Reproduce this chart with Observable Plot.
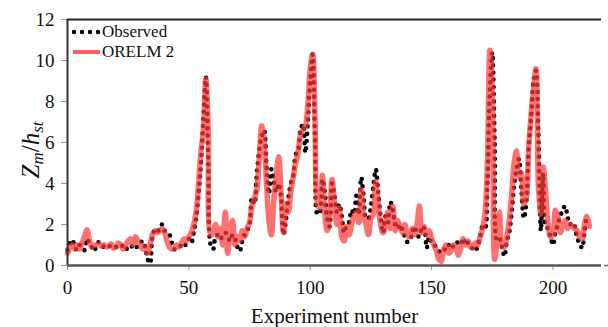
<!DOCTYPE html>
<html>
<head>
<meta charset="utf-8">
<script src="https://cdn.jsdelivr.net/npm/d3@7"></script>
<script src="https://cdn.jsdelivr.net/npm/@observablehq/plot@0.6"></script>
<style>
  html, body { margin: 0; padding: 0; background: #fff; }
  #wrap { position: relative; width: 608px; height: 327px; font-family: "Liberation Serif", Tinos, "Times New Roman", Times, "DejaVu Serif", serif; }
  #ylab { position: absolute; left: 32px; top: 150px; transform: translate(-50%, -50%) rotate(-90deg); font-size: 25px; white-space: nowrap; color: #111; }
  #ylab sub { font-size: 17px; vertical-align: -4px; }
  #legend { position: absolute; left: 71px; top: 22px; font-size: 17px; color: #111; line-height: 20px; }
  #legend div { display: flex; align-items: center; }
  #legend svg { margin-right: 1px; }
</style>
</head>
<body>
<div id="wrap">
  <div id="chart"></div>
  <div id="ylab"><i>Z</i><sub><i>m</i></sub>/<i>h</i><sub><i>st</i></sub></div>
  <div id="legend">
    <div><svg width="30" height="12"><line x1="3" y1="6" x2="28" y2="6" stroke="#000" stroke-width="4.5" stroke-linecap="round" stroke-dasharray="0 8"/></svg>Observed</div>
    <div><svg width="30" height="12"><line x1="2" y1="6" x2="29" y2="6" stroke="#ff3838" stroke-opacity="0.8" stroke-width="4"/></svg>ORELM 2</div>
  </div>
</div>
<script>
// Observed relative scour depth per experiment (index 0..215)
const observed = [
  0.75, 1.1, 1.25, 0.9, 0.75, 1.0, 0.9, 0.75, 1.3, 1.1,
  0.9, 0.7, 1.0, 1.15, 1.0, 0.9, 0.85, 0.9, 1.0, 0.95,
  0.9, 0.85, 0.9, 1.0, 0.8, 0.9, 1.0, 0.85, 0.8, 1.0,
  1.1, 1.2, 0.9, 0.3, 0.1, 1.4, 1.7, 1.6, 1.9, 2.0,
  1.7, 1.6, 1.5, 1.1, 0.8, 0.8, 0.85, 1.0, 0.9, 1.1,
  1.3, 1.1, 1.6, 2.3, 3.5, 5.0, 7.2, 9.2, 5.0, 1.0,
  0.8, 1.4, 1.5, 1.3, 1.5, 1.6, 1.4, 1.2, 1.5, 1.3,
  0.9, 0.7, 1.2, 1.5, 1.7, 2.0, 3.3, 3.0, 4.5, 5.6,
  6.3, 6.6, 4.8, 3.5, 4.7, 4.1, 3.6, 4.0, 3.3, 1.5,
  2.2, 3.3, 4.0, 4.4, 5.4, 5.6, 6.6, 6.9, 5.5, 7.0,
  9.0, 10.3, 6.0, 2.5, 2.6, 4.2, 3.6, 2.3, 1.9, 4.0,
  3.4, 2.6, 3.0, 2.4, 1.6, 2.0, 2.1, 2.7, 2.5, 3.4,
  2.5, 4.3, 3.4, 2.3, 2.3, 2.9, 3.9, 4.7, 3.6, 2.4,
  1.6, 2.4, 2.1, 3.1, 2.7, 2.0, 1.8, 2.0, 1.7, 1.4,
  1.15, 1.2, 1.6, 1.9, 1.5, 1.4, 1.9, 1.8, 0.85, 1.4,
  1.1, 1.0, 0.9, 0.7, 0.65, 0.8, 0.75, 1.0, 1.1, 0.9,
  0.95, 1.2, 1.25, 1.0, 1.3, 1.1, 1.0, 0.8, 0.7, 1.0,
  1.4, 1.9, 1.8, 4.0, 8.5, 10.4, 6.0, 1.2, 1.3, 0.9,
  0.45, 1.2, 1.6, 2.6, 3.9, 4.7, 5.2, 3.7, 2.3, 3.0,
  5.8, 7.2, 9.0, 9.5, 6.5, 1.7, 4.5, 1.9, 1.8, 1.4,
  1.0, 1.6, 2.0, 2.4, 2.7, 2.9, 2.4, 2.0, 2.1, 1.9,
  1.3, 1.1, 0.85, 1.6, 2.3, 2.3
];

// ORELM 2 model predictions for the same experiments
const orelm2 = [
  0.6, 0.9, 1.0, 0.8, 1.0, 0.8, 1.1, 1.4, 1.75, 1.2,
  0.9, 1.0, 1.0, 1.05, 0.95, 1.0, 0.9, 0.95, 1.05, 0.85,
  0.9, 1.1, 1.0, 0.8, 1.0, 1.2, 1.3, 1.0, 1.4, 1.2,
  1.0, 0.8, 0.9, 0.6, 1.0, 1.5, 1.7, 1.6, 1.7, 1.8,
  1.6, 1.2, 0.9, 0.8, 0.85, 1.0, 0.9, 1.1, 1.3, 1.2,
  1.4, 1.6, 2.0, 2.6, 4.0, 5.6, 6.6, 9.1, 6.5, 1.5,
  1.6, 2.0, 1.4, 1.8, 1.0, 2.6, 0.6, 1.6, 2.2, 1.0,
  1.4, 1.2, 1.7, 1.4, 1.8, 2.1, 2.9, 3.3, 3.7, 5.2,
  6.8, 6.0, 4.0, 2.2, 1.5, 3.2, 4.4, 5.3, 3.5, 1.6,
  3.0, 2.6, 3.6, 4.3, 5.0, 5.5, 6.4, 6.6, 6.8, 7.8,
  9.6, 10.3, 7.0, 3.0, 2.8, 4.4, 2.5, 1.7, 2.4, 4.2,
  3.0, 2.0, 2.8, 1.4, 1.2, 1.9, 1.5, 2.0, 2.4, 2.6,
  2.1, 3.7, 2.4, 2.0, 1.5, 2.3, 2.5, 4.1, 3.0, 2.0,
  1.6, 2.0, 2.6, 1.8, 2.9, 1.7, 2.2, 1.9, 1.6, 2.0,
  1.5, 1.4, 1.8, 1.5, 2.0, 2.9, 1.6, 1.9, 1.5, 1.7,
  1.3, 1.0, 0.7, 0.3, 0.2, 0.8, 1.0, 0.6, 0.7, 1.0,
  0.9, 0.5, 0.9, 1.3, 1.0, 1.2, 0.9, 0.9, 1.1, 1.0,
  1.4, 1.8, 2.5, 5.0, 10.5, 8.5, 0.3, 1.2, 2.6, 1.0,
  0.9, 1.4, 2.2, 3.5, 5.0, 5.6, 4.3, 4.5, 3.0, 3.3,
  5.7, 7.4, 8.6, 9.6, 4.0, 2.5, 4.8, 3.5, 2.0, 1.4,
  1.5, 2.7, 2.4, 1.6, 2.0, 2.2, 1.8, 2.0, 1.9, 1.8,
  1.7, 1.4, 1.3, 2.0, 2.4, 1.9
];

const xTicks = [0, 50, 100, 150, 200];
const yTicks = [0, 2, 4, 6, 8, 10, 12];

const obsRows = observed.map((v, i) => ({i, v}));
const predRows = orelm2.map((v, i) => ({i, v}));

const serif = "'Liberation Serif', Tinos, 'Times New Roman', Times, 'DejaVu Serif', serif";

const chart = Plot.plot({
  width: 608,
  height: 327,
  marginLeft: 67,
  marginRight: 7,
  marginTop: 19,
  marginBottom: 62,
  style: {fontFamily: serif, fontSize: "19px", color: "#111", background: "#fff"},
  x: {domain: [0, 220]},
  y: {domain: [0, 12]},
  marks: [
    Plot.axisX({ticks: xTicks, tickSize: 5, tickPadding: 10, stroke: "#999", label: null, fontSize: 19, fontFamily: serif}),
    Plot.axisY({ticks: yTicks, tickSize: 6, tickPadding: 7, stroke: "#999", label: null, fontSize: 19, fontFamily: serif}),
    // observed: round-dot line
    Plot.line(obsRows, {x: "i", y: "v", curve: "catmull-rom", stroke: "#000", strokeWidth: 4.6,
      strokeLinecap: "round", strokeDasharray: "0 7.2"}),
    // model: translucent red line over the dots
    Plot.line(predRows, {x: "i", y: "v", curve: "catmull-rom", stroke: "#ff3a3a", strokeOpacity: 0.72,
      strokeWidth: 5.5, strokeLinejoin: "round"}),
    // plot-area frame: left, top and bottom lines
    Plot.ruleX([0], {stroke: "#333", strokeWidth: 2}),
    Plot.ruleY([12], {stroke: "#222", strokeWidth: 2}),
    Plot.ruleY([0], {stroke: "#555", strokeWidth: 2.5}),
    Plot.ruleY([0], {x1: 221.3, x2: 223.2, stroke: "#666", strokeWidth: 1.5}),
    Plot.text(["Experiment number"], {frameAnchor: "bottom", dy: 57, fontSize: 21, fill: "#111", fontFamily: serif})
  ]
});

document.getElementById("chart").appendChild(chart);
</script>
</body>
</html>
